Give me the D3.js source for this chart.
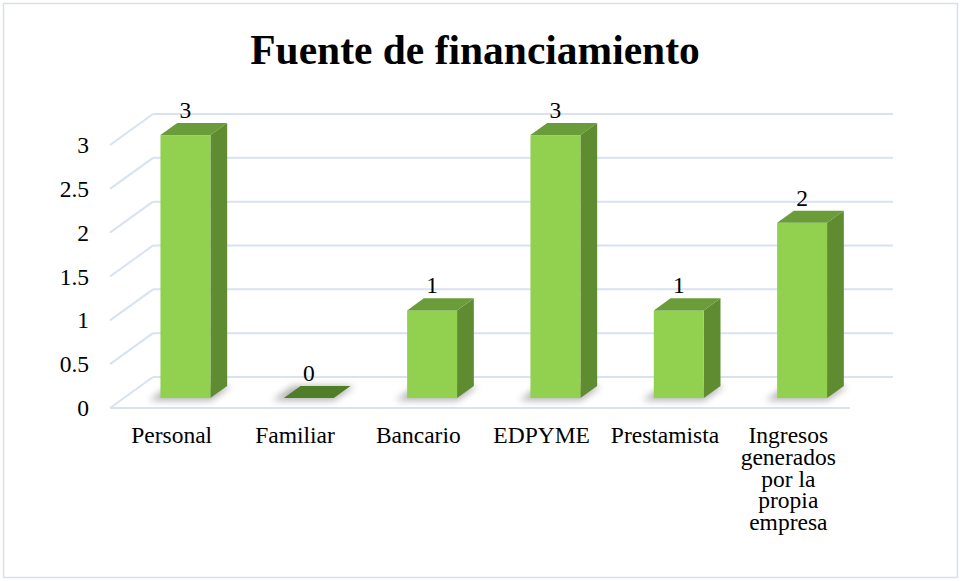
<!DOCTYPE html>
<html>
<head>
<meta charset="utf-8">
<script src="https://cdn.jsdelivr.net/npm/d3@7"></script>
<style>
  body { margin: 0; background: #fff; }
  svg text { font-family: "Liberation Serif", "Times New Roman", serif; fill: #000; }
</style>
</head>
<body>
<div id="chart"></div>
<script>
const categories = ["Personal", "Familiar", "Bancario", "EDPYME", "Prestamista", "Ingresos generados por la propia empresa"];
const categoryLines = [["Personal"], ["Familiar"], ["Bancario"], ["EDPYME"], ["Prestamista"], ["Ingresos", "generados", "por la", "propia", "empresa"]];
const values = [3, 0, 1, 3, 1, 2];
const yTicks = [0, 0.5, 1, 1.5, 2, 2.5, 3];
const yTickLabels = ["0", "0.5", "1", "1.5", "2", "2.5", "3"];

const width = 962;
const height = 581;

const svg = d3.select("#chart")
    .append("svg")
    .attr("width", width)
    .attr("height", height);

// blur for the floor shadows
const defs = svg.append("defs");
defs.append("filter")
    .attr("id", "soft")
    .attr("x", "-50%").attr("y", "-50%").attr("width", "200%").attr("height", "200%")
    .append("feGaussianBlur")
    .attr("stdDeviation", 3.5);

// chart frame
svg.append("rect")
    .attr("x", 3.5).attr("y", 3.5)
    .attr("width", 954).attr("height", 574)
    .attr("fill", "none")
    .attr("stroke", "#d6e0ef")
    .attr("stroke-width", 1.5);

svg.append("text")
    .attr("x", 475)
    .attr("y", 64)
    .attr("text-anchor", "middle")
    .style("font-size", "41.5px")
    .style("font-weight", "bold")
    .text("Fuente de financiamiento");

// back wall scales, depth goes toward the viewer
const x = d3.scaleBand().domain(categories).range([153, 893]);
const y = d3.scaleLinear().domain([0, 3]).range([377, 114]);
const depthX = -43;
const depthY = 31;
const px = (xv, d) => xv + depthX * d;
const py = (yv, d) => yv + depthY * d;

const grid = svg.append("g");

// back wall gridlines
grid.selectAll("line.back")
    .data(yTicks)
    .enter()
    .append("line")
    .attr("x1", 153).attr("x2", 893)
    .attr("y1", d => y(d)).attr("y2", d => y(d))
    .attr("stroke", "#d8e2f2")
    .attr("stroke-width", 2);

// side wall diagonals
grid.selectAll("line.side")
    .data(yTicks)
    .enter()
    .append("line")
    .attr("x1", px(153, 0)).attr("y1", d => y(d))
    .attr("x2", px(153, 1)).attr("y2", d => py(y(d), 1))
    .attr("stroke", "#d8e2f2")
    .attr("stroke-width", 2);

// floor front edge
grid.append("line")
    .attr("x1", px(153, 1)).attr("x2", px(893, 1))
    .attr("y1", py(y(0), 1)).attr("y2", py(y(0), 1))
    .attr("stroke", "#d8e2f2")
    .attr("stroke-width", 2);

// y tick labels
svg.append("g")
    .selectAll("text")
    .data(yTicks)
    .enter()
    .append("text")
    .attr("x", 89)
    .attr("y", d => py(y(d), 1) + 8)
    .attr("text-anchor", "end")
    .style("font-size", "23.5px")
    .text((d, i) => yTickLabels[i]);

// bars
const frontD = 0.68;
const backD = 0.29;
const bw = x.bandwidth() * 0.405;
const bx = c => x(c) + (x.bandwidth() - bw) / 2;

const bars = svg.append("g")
    .selectAll("g")
    .data(categories)
    .enter()
    .append("g");

bars.append("polygon")
    .attr("points", (c, i) => {
        const x0 = bx(c) - 8, x1 = bx(c) + bw + 4, yb = y(0);
        return [[px(x0, frontD + 0.08), py(yb, frontD + 0.08)], [px(x1, frontD + 0.08), py(yb, frontD + 0.08)],
                [px(x1, backD), py(yb, backD)], [px(x0, backD), py(yb, backD)]].join(" ");
    })
    .attr("fill", "#808080")
    .attr("opacity", 0.6)
    .attr("filter", "url(#soft)");

bars.append("polygon")
    .attr("points", (c, i) => {
        const xr = bx(c) + bw, yt = y(values[i]), yb = y(0);
        return [[px(xr, frontD), py(yt, frontD)], [px(xr, backD), py(yt, backD)],
                [px(xr, backD), py(yb, backD)], [px(xr, frontD), py(yb, frontD)]].join(" ");
    })
    .attr("fill", "#5f8b31");

bars.append("rect")
    .attr("x", c => px(bx(c), frontD))
    .attr("y", (c, i) => py(y(values[i]), frontD))
    .attr("width", bw)
    .attr("height", (c, i) => y(0) - y(values[i]))
    .attr("fill", "#92d050");

bars.append("polygon")
    .attr("points", (c, i) => {
        const x0 = bx(c), x1 = bx(c) + bw, yt = y(values[i]);
        return [[px(x0, frontD), py(yt, frontD)], [px(x1, frontD), py(yt, frontD)],
                [px(x1, backD), py(yt, backD)], [px(x0, backD), py(yt, backD)]].join(" ");
    })
    .attr("fill", (c, i) => values[i] === 0 ? "#4f7d28" : "#6a9c3a");

// value labels
bars.append("text")
    .attr("x", c => px(bx(c) + bw / 2, frontD))
    .attr("y", (c, i) => py(y(values[i]), backD) - 5)
    .attr("text-anchor", "middle")
    .style("font-size", "23.5px")
    .text((c, i) => values[i]);

// category labels
const labels = svg.append("g")
    .selectAll("text")
    .data(categories)
    .enter()
    .append("text")
    .attr("x", c => px(x(c) + x.bandwidth() / 2, 1))
    .attr("y", 443)
    .attr("text-anchor", "middle")
    .style("font-size", "23.5px");

labels.selectAll("tspan")
    .data((c, i) => categoryLines[i])
    .enter()
    .append("tspan")
    .attr("x", function () { return d3.select(this.parentNode).attr("x"); })
    .attr("dy", (d, j) => j === 0 ? 0 : 21.8)
    .text(d => d);
</script>
</body>
</html>
